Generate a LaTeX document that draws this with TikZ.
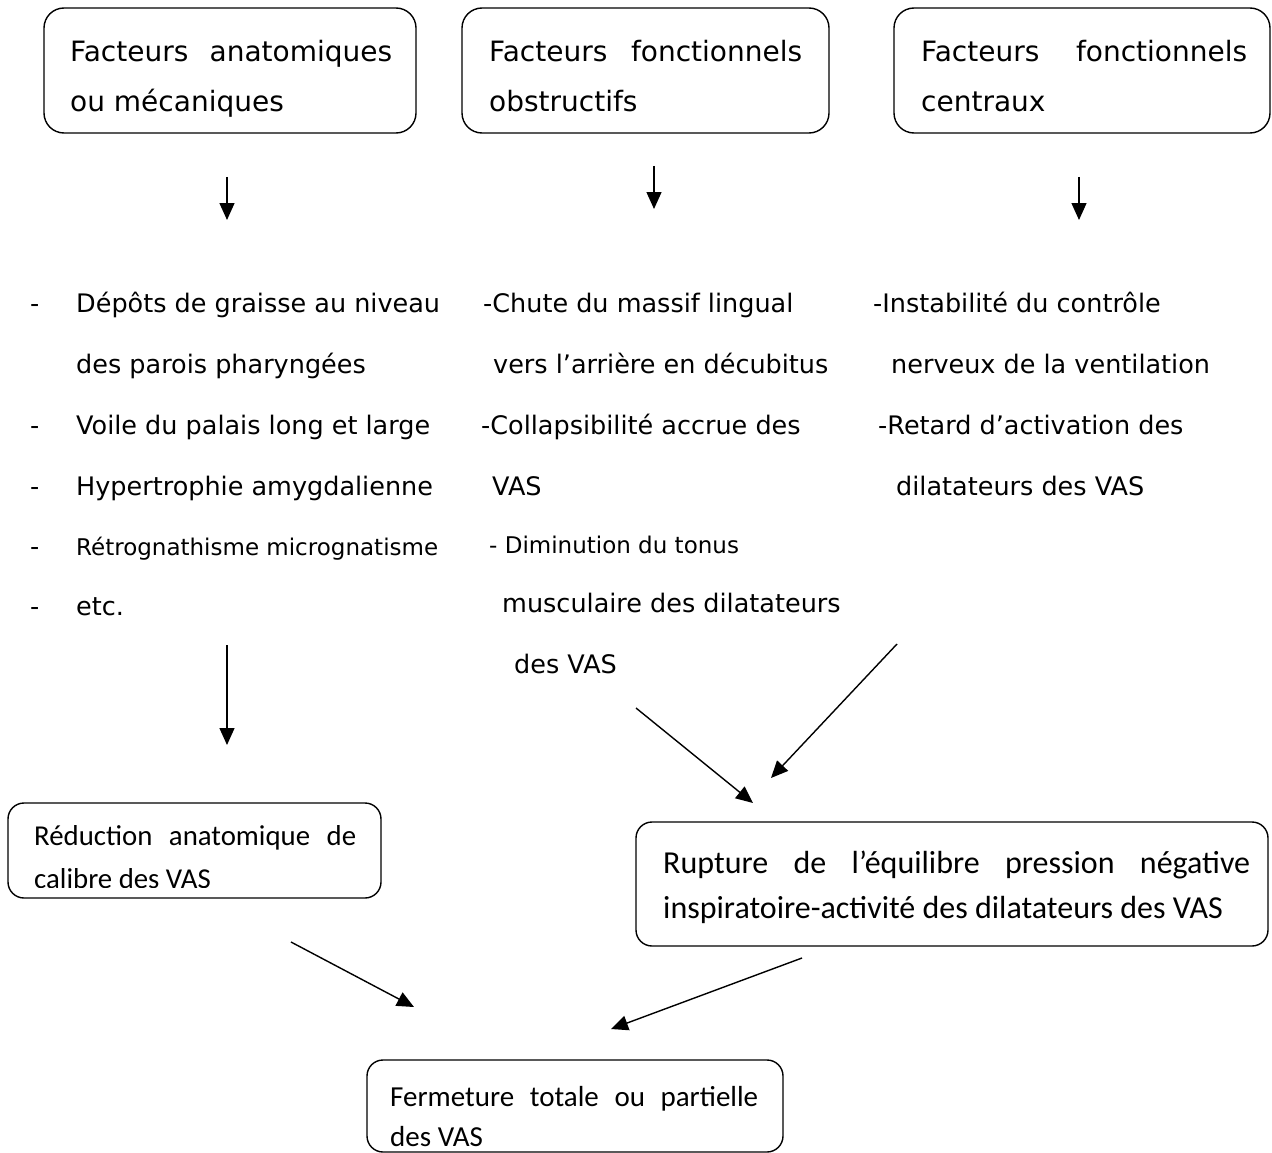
\documentclass[tikz,border=0pt]{standalone}
\usepackage{fontspec}
\setmainfont{DejaVu Sans}
\newfontfamily\lowfont{Carlito}
\usetikzlibrary{arrows.meta}
\begin{document}
\begin{tikzpicture}[x=1pt,y=-1pt,
  box/.style={draw, line width=1.4pt, rounded corners=20pt, inner sep=0pt},
  lowbox/.style={draw, line width=1.4pt, rounded corners=16pt, inner sep=0pt},
  toptxt/.style={anchor=base west, inner sep=0pt, font=\fontsize{28}{32}\selectfont},
  txt/.style={anchor=base west, inner sep=0pt, font=\fontsize{25.5}{30}\selectfont},
  smalltxt/.style={anchor=base west, inner sep=0pt, font=\fontsize{23}{28}\selectfont},
  lowtxt/.style={anchor=base west, inner sep=0pt, font=\lowfont\fontsize{#1}{#1}\selectfont},
  arr/.style={line width=1.4pt, -{Triangle[length=17pt,width=15pt]}},
]
\useasboundingbox[fill=white] (0,0) rectangle (1272,1153);

% ---------- top boxes ----------
\node[box, minimum width=372pt, minimum height=125pt] (fa) at (230,70.5) {};
\node[toptxt] (fa1) at (70,62) {\makebox[322pt][s]{Facteurs anatomiques}};
\node[toptxt] (fa2) at (70,112) {ou mécaniques};

\node[box, minimum width=367pt, minimum height=125pt] (fo) at (645.5,70.5) {};
\node[toptxt] (fo1) at (489,62) {\makebox[313pt][s]{Facteurs fonctionnels}};
\node[toptxt] (fo2) at (489,112) {obstructifs};

\node[box, minimum width=376pt, minimum height=125pt] (fc) at (1082,70.5) {};
\node[toptxt] (fc1) at (921,62) {\makebox[326pt][s]{Facteurs fonctionnels}};
\node[toptxt] (fc2) at (921,112) {centraux};

% ---------- left list ----------
\node[txt] (ld1) at (30,312) {-};
\node[txt] (l1) at (76,312) {Dépôts de graisse au niveau};
\node[txt] (l1b) at (76,373) {des parois pharyngées};
\node[txt] (ld2) at (30,434) {-};
\node[txt] (l2) at (76,434) {Voile du palais long et large};
\node[txt] (ld3) at (30,495) {-};
\node[txt] (l3) at (76,495) {Hypertrophie amygdalienne};
\node[txt] (ld4) at (30,555) {-};
\node[smalltxt] (l4) at (76,555) {Rétrognathisme micrognatisme};
\node[txt] (ld5) at (30,615) {-};
\node[txt] (l5) at (76,615) {etc.};

% ---------- middle list ----------
\node[txt] (m1) at (483,312) {-Chute du massif lingual};
\node[txt] (m1b) at (493,373) {vers l’arrière en décubitus};
\node[txt] (m2) at (481,434) {-Collapsibilité accrue des};
\node[txt] (m2b) at (492,495) {VAS};
\node[smalltxt] (m3) at (489,553) {- Diminution du tonus};
\node[txt] (m3b) at (502,612) {musculaire des dilatateurs};
\node[txt] (m3c) at (514,673) {des VAS};

% ---------- right list ----------
\node[txt] (r1) at (873,312) {-Instabilité du contrôle};
\node[txt] (r1b) at (891,373) {nerveux de la ventilation};
\node[txt] (r2) at (878,434) {-Retard d’activation des};
\node[txt] (r2b) at (896,495) {dilatateurs des VAS};

% ---------- lower boxes ----------
\node[lowbox, minimum width=373pt, minimum height=95pt] (red) at (194.5,850.5) {};
\begin{scope}
\clip (10,805) rectangle (379,887.5);
\node[lowtxt=28.8] (red1) at (34,845) {\makebox[322pt][s]{Réduction anatomique de}};
\node[lowtxt=28.8] (red2) at (34,888) {calibre des VAS};
\end{scope}

\node[lowbox, minimum width=632pt, minimum height=124pt] (rup) at (952,884) {};
\node[lowtxt=32] (rup1) at (663,873) {\makebox[587pt][s]{Rupture de l’équilibre pression négative}};
\node[lowtxt=32] (rup2) at (663,918) {inspiratoire-activité des dilatateurs des VAS};

\node[lowbox, minimum width=416pt, minimum height=92pt] (fer) at (575,1106) {};
\node[lowtxt=29] (fer1) at (390,1106) {\makebox[368pt][s]{Fermeture totale ou partielle}};
\node[lowtxt=29] (fer2) at (390,1146) {des VAS};

% ---------- arrow end points ----------
\coordinate (a1s) at (227,177);  \coordinate (a1e) at (227,220);
\coordinate (a2s) at (654,166);  \coordinate (a2e) at (654,209);
\coordinate (a3s) at (1079,177); \coordinate (a3e) at (1079,220);
\coordinate (a4s) at (227,645);  \coordinate (a4e) at (227,745);
\coordinate (a5s) at (636,708);  \coordinate (a5e) at (753,803);
\coordinate (a6s) at (897,644);  \coordinate (a6e) at (771,778);
\coordinate (a7s) at (291,942);  \coordinate (a7e) at (414,1007);
\coordinate (a8s) at (802,958);  \coordinate (a8e) at (611,1029);

\draw[arr] (a1s) -- (a1e);
\draw[arr] (a2s) -- (a2e);
\draw[arr] (a3s) -- (a3e);
\draw[arr] (a4s) -- (a4e);
\draw[arr] (a5s) -- (a5e);
\draw[arr] (a6s) -- (a6e);
\draw[arr] (a7s) -- (a7e);
\draw[arr] (a8s) -- (a8e);
\end{tikzpicture}
\end{document}
